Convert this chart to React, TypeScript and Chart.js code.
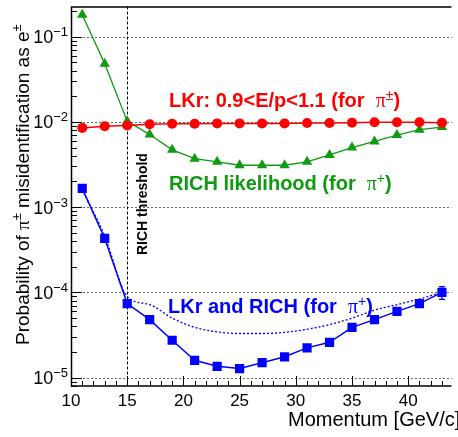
import { useEffect, useRef } from 'react';
import { Chart, registerables } from 'chart.js';

Chart.register(...registerables);

// Momentum bins [GeV/c]
const momentum = [11, 13, 15, 17, 19, 21, 23, 25, 27, 29, 31, 33, 35, 37, 39, 41, 43];
// LKr: 0.9<E/p<1.1
const lkrProb = [0.0085, 0.0089, 0.0091, 0.0094, 0.0095, 0.0095, 0.0096, 0.0096, 0.0096, 0.0096, 0.0097, 0.0097, 0.0098, 0.0099, 0.0099, 0.0099, 0.0098];
// RICH likelihood
const richProb = [0.18, 0.048, 0.0102, 0.0071, 0.0047, 0.0037, 0.0034, 0.0031, 0.0031, 0.0031, 0.0034, 0.0041, 0.005, 0.0059, 0.007, 0.0081, 0.0087];
// LKr and RICH (measured)
const combinedProb = [0.00166, 0.00043, 7.4e-5, 4.8e-5, 2.75e-5, 1.6e-5, 1.36e-5, 1.28e-5, 1.5e-5, 1.76e-5, 2.24e-5, 2.6e-5, 3.9e-5, 4.8e-5, 6.0e-5, 7.4e-5, 1.0e-4];
const combinedErr = [0, 0, 0, 0, 0, 0, 0, 0, 0, 0, 0, 0, 0, 0, 0, 0, 1.7e-5];
// LKr and RICH (dotted curve)
const productProb = [0.0016, 0.00046, 9.0e-5, 7.2e-5, 5.0e-5, 3.9e-5, 3.45e-5, 3.3e-5, 3.3e-5, 3.4e-5, 3.7e-5, 4.2e-5, 5.0e-5, 6.2e-5, 7.2e-5, 8.4e-5, 1.0e-4];

const xTickLabels = [10, 15, 20, 25, 30, 35, 40];
const yDecades = [-5, -4, -3, -2, -1];
const thresholdMomentum = 15;

const SANS = '"Liberation Sans", Arial, Helvetica, sans-serif';
const SYM = '"Liberation Serif", "DejaVu Serif", serif';
const RED = '#ff0000';
const GREEN = '#109a10';
const BLUE = '#0000ff';

type Part = { t: string; font: string; dy?: number };

function drawParts(ctx: CanvasRenderingContext2D, parts: Part[], x: number, y: number) {
  let cx = x;
  for (const p of parts) {
    ctx.font = p.font;
    ctx.fillText(p.t, cx, y + (p.dy || 0));
    cx += ctx.measureText(p.t).width;
  }
  return cx;
}

function partsWidth(ctx: CanvasRenderingContext2D, parts: Part[]) {
  let w = 0;
  for (const p of parts) {
    ctx.font = p.font;
    w += ctx.measureText(p.t).width;
  }
  return w;
}

const decorPlugin = {
  id: 'decor',
  beforeDatasetsDraw(chart: any) {
    const ctx: CanvasRenderingContext2D = chart.ctx;
    const { left, right, top, bottom } = chart.chartArea;
    const xs = chart.scales.x;
    const ys = chart.scales.y;
    ctx.save();
    // decade grid
    ctx.strokeStyle = '#6a6a6a';
    ctx.lineWidth = 1;
    ctx.setLineDash([2, 2]);
    for (const d of yDecades) {
      const py = Math.round(ys.getPixelForValue(Math.pow(10, d))) + 0.5;
      ctx.beginPath();
      ctx.moveTo(left, py);
      ctx.lineTo(right, py);
      ctx.stroke();
    }
    // threshold line
    ctx.strokeStyle = '#000';
    ctx.setLineDash([3, 2]);
    const tx = Math.round(xs.getPixelForValue(thresholdMomentum)) + 0.5;
    ctx.beginPath();
    ctx.moveTo(tx, top);
    ctx.lineTo(tx, bottom);
    ctx.stroke();
    ctx.restore();
  },
  afterDatasetsDraw(chart: any) {
    const ctx: CanvasRenderingContext2D = chart.ctx;
    const { left, right, top, bottom } = chart.chartArea;
    const xs = chart.scales.x;
    const ys = chart.scales.y;
    ctx.save();
    // error bars
    ctx.strokeStyle = BLUE;
    ctx.lineWidth = 1.2;
    momentum.forEach((m, i) => {
      const e = combinedErr[i];
      if (!e) return;
      const px = xs.getPixelForValue(m);
      const y1 = ys.getPixelForValue(combinedProb[i] + e);
      const y2 = ys.getPixelForValue(combinedProb[i] - e);
      ctx.beginPath();
      ctx.moveTo(px, y1);
      ctx.lineTo(px, y2);
      ctx.moveTo(px - 3, y1);
      ctx.lineTo(px + 3, y1);
      ctx.moveTo(px - 3, y2);
      ctx.lineTo(px + 3, y2);
      ctx.stroke();
    });

    // frame
    ctx.strokeStyle = '#000';
    ctx.lineWidth = 1.5;
    ctx.beginPath();
    ctx.moveTo(right, top + 0.5);
    ctx.lineTo(left + 0.5, top + 0.5);
    ctx.lineTo(left + 0.5, bottom);
    ctx.lineTo(right, bottom);
    ctx.stroke();

    // x ticks
    ctx.lineWidth = 1;
    ctx.beginPath();
    for (let v = 10; v <= 43; v++) {
      const px = Math.round(xs.getPixelForValue(v)) + 0.5;
      const len = v % 5 === 0 ? 10 : 5;
      ctx.moveTo(px, bottom);
      ctx.lineTo(px, bottom - len);
    }
    // y ticks
    for (let d = -6; d <= 0; d++) {
      for (let k = 1; k <= 9; k++) {
        const v = k * Math.pow(10, d);
        const py = ys.getPixelForValue(v);
        if (py < top || py > bottom) continue;
        const len = k === 1 ? 11 : 6;
        const ry = Math.round(py) + 0.5;
        ctx.moveTo(left, ry);
        ctx.lineTo(left + len, ry);
      }
    }
    ctx.stroke();

    ctx.fillStyle = '#000';
    ctx.textBaseline = 'alphabetic';
    // x tick labels
    ctx.font = `17px ${SANS}`;
    ctx.textAlign = 'center';
    for (const v of xTickLabels) {
      ctx.fillText(String(v), xs.getPixelForValue(v), 406);
    }
    ctx.textAlign = 'left';
    // y tick labels
    for (const d of yDecades) {
      const py = ys.getPixelForValue(Math.pow(10, d));
      const parts: Part[] = [
        { t: '10', font: `18px ${SANS}` },
        { t: '\u2212' + String(-d), font: `13px ${SANS}`, dy: -7 },
      ];
      const w = partsWidth(ctx, parts);
      drawParts(ctx, parts, left - 3 - w, py + 6.5);
    }
    // x title
    ctx.font = `20px ${SANS}`;
    ctx.fillText('Momentum [GeV/c]', 288, 426);

    // y title
    ctx.save();
    ctx.translate(29, 345);
    ctx.rotate(-Math.PI / 2);
    drawParts(ctx, [
      { t: 'Probability of ', font: `19px ${SANS}` },
      { t: '\u03c0', font: `19px ${SYM}` },
      { t: '\u00b1', font: `13px ${SANS}`, dy: -8 },
      { t: ' misidentification as e', font: `19px ${SANS}` },
      { t: '\u00b1', font: `13px ${SANS}`, dy: -8 },
    ], 0, 0);
    ctx.restore();

    // RICH threshold label
    ctx.save();
    ctx.translate(146.5, 255);
    ctx.rotate(-Math.PI / 2);
    ctx.font = `bold 14px ${SANS}`;
    ctx.fillText('RICH threshold', 0, 0);
    ctx.restore();

    // annotations
    ctx.fillStyle = RED;
    drawParts(ctx, [
      { t: 'LKr: 0.9<E/p<1.1 (for  ', font: `bold 20px ${SANS}` },
      { t: '\u03c0', font: `20px ${SYM}` },
      { t: '\u00b1', font: `14px ${SANS}`, dy: -7 },
      { t: ')', font: `bold 20px ${SANS}` },
    ], 169, 106.5);
    ctx.fillStyle = GREEN;
    drawParts(ctx, [
      { t: 'RICH likelihood (for  ', font: `bold 20px ${SANS}` },
      { t: '\u03c0', font: `20px ${SYM}` },
      { t: '+', font: `14px ${SANS}`, dy: -7 },
      { t: ')', font: `bold 20px ${SANS}` },
    ], 169, 190);
    ctx.fillStyle = BLUE;
    drawParts(ctx, [
      { t: 'LKr and RICH (for  ', font: `bold 20px ${SANS}` },
      { t: '\u03c0', font: `20px ${SYM}` },
      { t: '+', font: `14px ${SANS}`, dy: -7 },
      { t: ')', font: `bold 20px ${SANS}` },
    ], 168, 313);
    ctx.restore();
  },
};

export default function App() {
  const canvasRef = useRef<HTMLCanvasElement | null>(null);

  useEffect(() => {
    const canvas = canvasRef.current;
    if (!canvas) return;
    const toPts = (ys: number[]) => momentum.map((m, i) => ({ x: m, y: ys[i] }));
    const chart = new Chart(canvas, {
      type: 'line',
      data: {
        datasets: [
          {
            label: 'LKr and RICH (dotted)',
            data: toPts(productProb),
            borderColor: BLUE,
            borderWidth: 1.3,
            borderDash: [2, 2],
            pointRadius: 0,
            cubicInterpolationMode: 'monotone',
            fill: false,
          },
          {
            label: 'LKr',
            data: toPts(lkrProb),
            borderColor: RED,
            backgroundColor: RED,
            borderWidth: 1.5,
            pointStyle: 'circle',
            pointRadius: 5,
            pointBorderWidth: 0,
            fill: false,
          },
          {
            label: 'RICH',
            data: toPts(richProb),
            borderColor: GREEN,
            backgroundColor: GREEN,
            borderWidth: 1.3,
            pointStyle: 'triangle',
            pointRadius: 6,
            pointBorderWidth: 0,
            fill: false,
          },
          {
            label: 'LKr and RICH',
            data: toPts(combinedProb),
            borderColor: BLUE,
            backgroundColor: BLUE,
            borderWidth: 1.5,
            pointStyle: 'rect',
            pointRadius: 6.5,
            pointBorderWidth: 0,
            fill: false,
          },
        ],
      },
      options: {
        animation: false,
        responsive: false,
        events: [],
        layout: { padding: { left: 71, top: 4, right: 0, bottom: 51 } },
        plugins: { legend: { display: false }, tooltip: { enabled: false } },
        scales: {
          x: { type: 'linear', min: 10, max: 43.85, display: false },
          y: { type: 'logarithmic', min: 8.0e-6, max: 0.2254, display: false },
        },
      },
      plugins: [decorPlugin],
    } as any);
    return () => chart.destroy();
  }, []);

  return (
    <div style={{ position: 'absolute', left: 0, top: 0, width: 458, height: 437, background: '#fff' }}>
      <canvas ref={canvasRef} width={458} height={437} style={{ width: 458, height: 437 }} />
    </div>
  );
}
